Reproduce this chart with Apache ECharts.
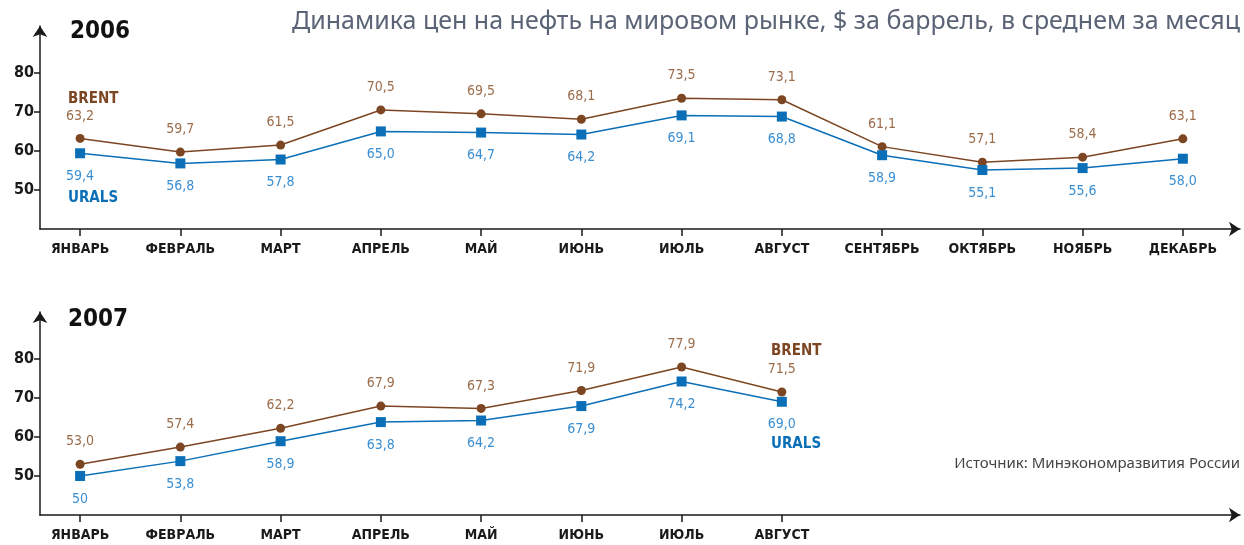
<!DOCTYPE html>
<html>
<head>
<meta charset="utf-8">
<script src="https://cdn.jsdelivr.net/npm/echarts@6/dist/echarts.min.js"></script>
<style>
html,body{margin:0;padding:0;background:#fff}
#chart{width:1244px;height:545px}
</style>
</head>
<body>
<div id="chart"></div>
<script>
// данные
var months = ['ЯНВАРЬ','ФЕВРАЛЬ','МАРТ','АПРЕЛЬ','МАЙ','ИЮНЬ','ИЮЛЬ','АВГУСТ','СЕНТЯБРЬ','ОКТЯБРЬ','НОЯБРЬ','ДЕКАБРЬ'];
var brent2006 = [63.2,59.7,61.5,70.5,69.5,68.1,73.5,73.1,61.1,57.1,58.4,63.1];
var urals2006 = [59.4,56.8,57.8,65.0,64.7,64.2,69.1,68.8,58.9,55.1,55.6,58.0];
var brent2007 = [53.0,57.4,62.2,67.9,67.3,71.9,77.9,71.5];
var urals2007 = [50,53.8,58.9,63.8,64.2,67.9,74.2,69.0];
var yTicks = [50,60,70,80];

var BROWN = '#7d4623', BROWN_L = '#9c6d4b';
var BLUE = '#0b6fb8', BLUE_L = '#3a8fd3';
var AX = '#1a1a1a';
var narrow = '"DejaVu Sans Condensed","Liberation Sans Narrow",sans-serif';

function fmt(v){
    if (v === 50) return '50';
    return v.toFixed(1).replace('.', ',');
}
function pts(arr){
    return arr.map(function(v,i){ return [i,v]; });
}

function makeX(gi, count){
    var idx=[];
    for(var i=0;i<count;i++) idx.push(i);
    return {
        type:'value', gridIndex:gi, min:-0.4, max:11.57,
        splitLine:{show:false},
        axisLine:{show:true, onZero:false, symbol:['none','arrow'], symbolSize:[11,11],
            lineStyle:{color:AX, width:1.5}},
        axisTick:{show:true, customValues:idx, length:7, lineStyle:{color:AX, width:1.5}},
        axisLabel:{customValues:idx, margin:13, color:AX, fontFamily:narrow,
            fontWeight:'bold', fontSize:14,
            formatter:function(v){ return months[v]; }}
    };
}
function makeY(gi){
    return {
        type:'value', gridIndex:gi, min:40, max:92,
        splitLine:{show:false},
        axisLine:{show:true, onZero:false, symbol:['none','arrow'], symbolSize:[11,11],
            lineStyle:{color:AX, width:1.5}},
        axisTick:{show:true, customValues:yTicks, length:6, lineStyle:{color:AX, width:1.5}},
        axisLabel:{customValues:yTicks, margin:6, color:AX, fontFamily:narrow,
            fontWeight:'bold', fontSize:16}
    };
}
function line(gi, data, isBrent){
    return {
        type:'line', xAxisIndex:gi, yAxisIndex:gi, data:pts(data),
        symbol: isBrent ? 'circle' : 'rect',
        symbolSize: isBrent ? 9 : 10,
        itemStyle:{color: isBrent ? BROWN : BLUE},
        lineStyle:{color: isBrent ? BROWN : BLUE, width:1.5},
        label:{show:true, position: isBrent ? 'top' : 'bottom', distance:11,
            color: isBrent ? BROWN_L : BLUE_L, fontFamily:narrow, fontSize:14,
            formatter:function(p){ return fmt(p.value[1]); }},
        animation:false
    };
}

var chart = echarts.init(document.getElementById('chart'));
chart.setOption({
    backgroundColor:'#fff',
    animation:false,
    grid:[
        {left:40, right:4, top:26, height:203},
        {left:40, right:4, top:312, height:203}
    ],
    xAxis:[makeX(0,12), makeX(1,8)],
    yAxis:[makeY(0), makeY(1)],
    series:[
        line(0, brent2006, true), line(0, urals2006, false),
        line(1, brent2007, true), line(1, urals2007, false)
    ],
    graphic:[
        {type:'text', right:4, top:9, style:{text:'Динамика цен на нефть на мировом рынке, $ за баррель, в среднем за месяц',
            fill:'#5b6476', font:'25px "Noto Sans", sans-serif'}},
        {type:'text', left:70, top:20, style:{text:'2006', fill:'#111', font:'bold 24px ' + narrow}},
        {type:'text', left:68, top:308, style:{text:'2007', fill:'#111', font:'bold 24px ' + narrow}},
        {type:'text', left:68, top:92, style:{text:'BRENT', fill:BROWN, font:'bold 15px ' + narrow}},
        {type:'text', left:68, top:191, style:{text:'URALS', fill:BLUE, font:'bold 15px ' + narrow}},
        {type:'text', left:771, top:344, style:{text:'BRENT', fill:BROWN, font:'bold 15px ' + narrow}},
        {type:'text', left:771, top:437, style:{text:'URALS', fill:BLUE, font:'bold 15px ' + narrow}},
        {type:'text', right:4, top:456, style:{text:'Источник: Минэкономразвития России',
            fill:'#444', font:'15px "Noto Sans", sans-serif'}}
    ]
});
</script>
</body>
</html>
